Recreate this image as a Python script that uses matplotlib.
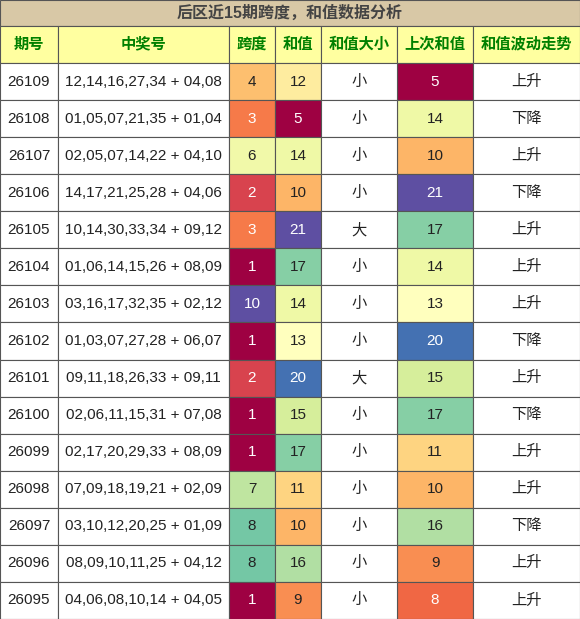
import matplotlib.pyplot as plt
from matplotlib import cm, colors as mcolors

plt.rcParams['font.family'] = ['Liberation Sans', 'Noto Sans CJK SC', 'DejaVu Sans']

title = "后区近15期跨度，和值数据分析"
headers = ["期号", "中奖号", "跨度", "和值", "和值大小", "上次和值", "和值波动走势"]
issues = ["26109", "26108", "26107", "26106", "26105", "26104", "26103", "26102",
          "26101", "26100", "26099", "26098", "26097", "26096", "26095"]
numbers = ["12,14,16,27,34 + 04,08", "01,05,07,21,35 + 01,04", "02,05,07,14,22 + 04,10",
           "14,17,21,25,28 + 04,06", "10,14,30,33,34 + 09,12", "01,06,14,15,26 + 08,09",
           "03,16,17,32,35 + 02,12", "01,03,07,27,28 + 06,07", "09,11,18,26,33 + 09,11",
           "02,06,11,15,31 + 07,08", "02,17,20,29,33 + 08,09", "07,09,18,19,21 + 02,09",
           "03,10,12,20,25 + 01,09", "08,09,10,11,25 + 04,12", "04,06,08,10,14 + 04,05"]
spans = [4, 3, 6, 2, 3, 1, 10, 1, 2, 1, 1, 7, 8, 8, 1]
sums = [12, 5, 14, 10, 21, 17, 14, 13, 20, 15, 17, 11, 10, 16, 9]
sizes = ["小", "小", "小", "小", "大", "小", "小", "小", "大", "小", "小", "小", "小", "小", "小"]
prev_sums = [5, 14, 10, 21, 17, 14, 13, 20, 15, 17, 11, 10, 16, 9, 8]
trends = ["上升", "下降", "上升", "下降", "上升", "上升", "上升", "下降", "上升", "下降",
          "上升", "上升", "下降", "上升", "上升"]

W, H = 580, 619
col_x = [0, 58, 229, 275, 321, 397, 473, 580]
title_h, head_h = 26, 37
row_h = (H - title_h - head_h) / len(issues)

fig = plt.figure(figsize=(W / 100, H / 100), dpi=100)
ax = fig.add_axes([0, 0, 1, 1])
ax.set_xlim(0, W)
ax.set_ylim(H, 0)
ax.axis('off')

cmap = plt.get_cmap('Spectral')
span_norm = mcolors.Normalize(1, 10)
sum_norm = mcolors.Normalize(5, 21)

def cell(x0, x1, y0, h, text, bg, fg='#222222', bold=False, size=11):
    ax.add_patch(plt.Rectangle((x0, y0), x1 - x0, h, facecolor=bg,
                               edgecolor='#555555', linewidth=0.8))
    ax.text((x0 + x1) / 2, y0 + h / 2, text, ha='center', va='center',
            color=fg, fontsize=size, fontweight='bold' if bold else 'normal')

def lum(c):
    r, g, b, _ = c
    return 0.299 * r + 0.587 * g + 0.114 * b

cell(0, W, 0, title_h, title, '#d8c8a6', fg='#444444', bold=True, size=11.5)
for i, hd in enumerate(headers):
    cell(col_x[i], col_x[i + 1], title_h, head_h, hd, '#ffffa0', fg='#008000', bold=True)

for r in range(len(issues)):
    y = title_h + head_h + r * row_h
    cell(col_x[0], col_x[1], y, row_h, issues[r], 'white')
    cell(col_x[1], col_x[2], y, row_h, numbers[r], 'white')
    for ci, val, norm in [(2, spans[r], span_norm), (3, sums[r], sum_norm),
                          (5, prev_sums[r], sum_norm)]:
        c = cmap(norm(val))
        cell(col_x[ci], col_x[ci + 1], y, row_h, str(val), c,
             fg='white' if lum(c) < 0.62 else '#222222')
    cell(col_x[4], col_x[5], y, row_h, sizes[r], 'white')
    cell(col_x[6], col_x[7], y, row_h, trends[r], 'white')

fig.savefig('out.png', dpi=100)
